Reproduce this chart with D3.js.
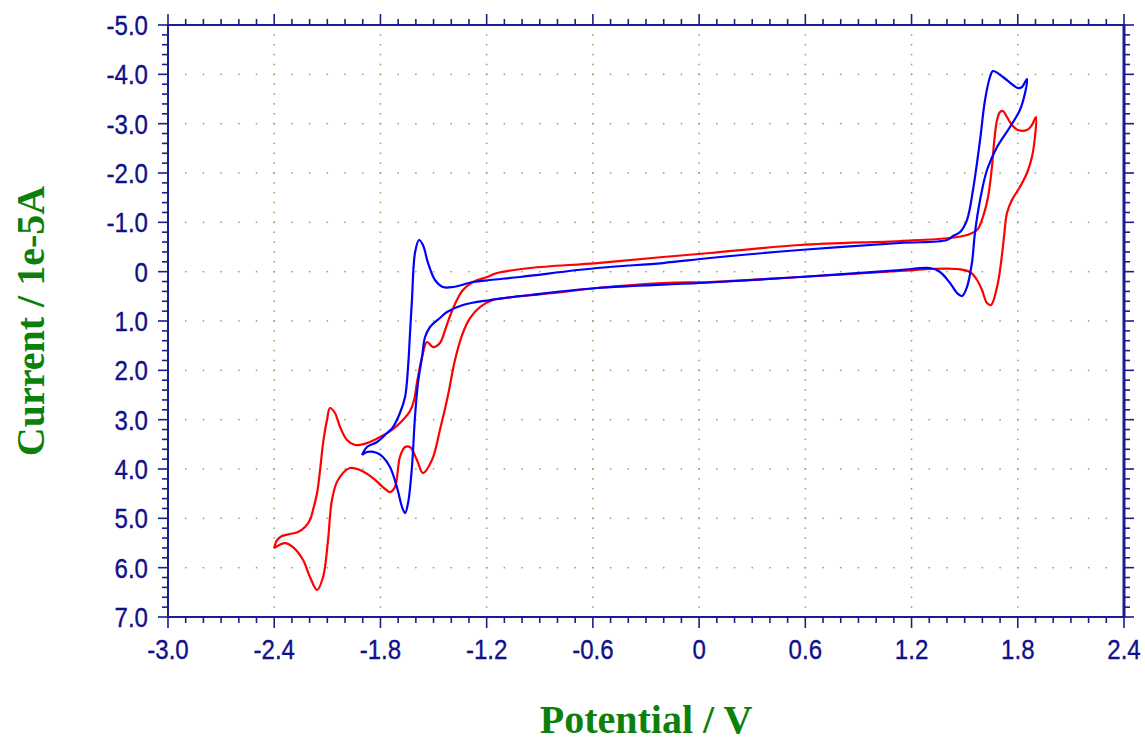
<!DOCTYPE html>
<html>
<head>
<meta charset="utf-8">
<script src="https://cdn.jsdelivr.net/npm/d3@7"></script>
<style>
  body { margin: 0; background: #fff; }
  svg { display: block; }
</style>
</head>
<body>
<div id="chartArea"></div>
<script>
// tick labels
const xTickLabels = ['-3.0', '-2.4', '-1.8', '-1.2', '-0.6', '0', '0.6', '1.2', '1.8', '2.4']
const yTickLabels = ['-5.0', '-4.0', '-3.0', '-2.0', '-1.0', '0', '1.0', '2.0', '3.0', '4.0', '5.0', '6.0', '7.0']

// red scan, potential (V) and current (1e-5 A)
const redPotential = [
  -2.401, -2.384, -2.356, -2.311, -2.266, -2.226, -2.198, -2.181, -2.158, -2.141,
  -2.124, -2.102, -2.085, -2.057, -2.028, -1.989, -1.944, -1.876, -1.803, -1.729,
  -1.673, -1.633, -1.610, -1.594, -1.565, -1.537, -1.503, -1.464, -1.435, -1.407,
  -1.368, -1.334, -1.277, -1.198, -1.142, -0.955, -0.577, -0.204, 0.061, 0.570,
  1.135, 1.417, 1.513, 1.570, 1.603, 1.632, 1.654, 1.666, 1.683, 1.700,
  1.716, 1.739, 1.767, 1.801, 1.852, 1.880, 1.903, 1.897, 1.880, 1.852,
  1.812, 1.767, 1.739, 1.722, 1.705, 1.683, 1.649, 1.626, 1.598, 1.570,
  1.530, 1.457, 1.304, 1.135, 0.570, 0.061, -0.204, -0.577, -0.769, -1.051,
  -1.164, -1.238, -1.294, -1.339, -1.379, -1.418, -1.464, -1.509, -1.560, -1.594,
  -1.633, -1.661, -1.690, -1.718, -1.746, -1.786, -1.842, -1.916, -1.972, -2.040,
  -2.074, -2.096, -2.124, -2.158, -2.198, -2.237, -2.294, -2.339, -2.401
]
const redCurrent = [
  5.602, 5.440, 5.359, 5.318, 5.278, 5.176, 5.034, 4.832, 4.487, 4.021,
  3.474, 3.007, 2.764, 2.865, 3.149, 3.413, 3.514, 3.474, 3.352, 3.190,
  3.007, 2.825, 2.602, 2.257, 1.730, 1.426, 1.528, 1.446, 1.183, 0.899,
  0.575, 0.372, 0.210, 0.108, 0.027, -0.074, -0.175, -0.297, -0.378, -0.540,
  -0.621, -0.682, -0.743, -0.844, -1.108, -1.513, -2.121, -2.608, -3.074, -3.236,
  -3.257, -3.135, -2.973, -2.871, -2.871, -2.973, -3.135, -2.730, -2.324, -2.000,
  -1.716, -1.452, -1.189, -0.702, -0.175, 0.311, 0.676, 0.636, 0.372, 0.169,
  0.007, -0.054, -0.054, -0.013, 0.108, 0.210, 0.230, 0.331, 0.412, 0.514,
  0.575, 0.717, 0.940, 1.284, 1.791, 2.500, 3.210, 3.818, 4.082, 3.818,
  3.555, 3.555, 3.757, 4.366, 4.467, 4.366, 4.183, 4.021, 3.980, 4.224,
  4.629, 5.440, 6.190, 6.453, 6.190, 5.845, 5.582, 5.501, 5.602
]

// blue scan, potential (V) and current (1e-5 A)
const bluePotential = [
  -1.904, -1.876, -1.819, -1.763, -1.729, -1.690, -1.661, -1.644, -1.633, -1.622,
  -1.605, -1.582, -1.560, -1.531, -1.492, -1.447, -1.390, -1.277, -1.181, -1.012,
  -0.577, -0.204, 0.061, 0.570, 1.135, 1.400, 1.434, 1.474, 1.513, 1.547,
  1.587, 1.615, 1.643, 1.660, 1.716, 1.773, 1.801, 1.824, 1.852, 1.841,
  1.812, 1.756, 1.683, 1.626, 1.587, 1.558, 1.541, 1.513, 1.485, 1.457,
  1.417, 1.361, 1.304, 1.135, 0.570, 0.005, -0.577, -0.955, -1.181, -1.334,
  -1.424, -1.464, -1.520, -1.548, -1.565, -1.588, -1.605, -1.622, -1.644, -1.661,
  -1.678, -1.707, -1.746, -1.786, -1.819, -1.876, -1.904
]
const blueCurrent = [
  3.717, 3.555, 3.453, 3.271, 3.149, 2.865, 2.541, 1.933, 1.244, 0.575,
  -0.378, -0.642, -0.540, -0.175, 0.169, 0.311, 0.311, 0.210, 0.169, 0.108,
  -0.074, -0.175, -0.277, -0.439, -0.581, -0.642, -0.723, -0.804, -1.047, -1.655,
  -2.669, -3.480, -3.946, -4.067, -3.946, -3.784, -3.723, -3.743, -3.905, -3.622,
  -3.277, -2.932, -2.527, -2.061, -1.452, -0.784, -0.175, 0.311, 0.494, 0.433,
  0.230, 0.007, -0.074, -0.033, 0.108, 0.230, 0.331, 0.473, 0.575, 0.676,
  0.818, 0.940, 1.122, 1.325, 1.730, 2.257, 2.946, 3.960, 4.690, 4.893,
  4.771, 4.366, 3.960, 3.757, 3.676, 3.656, 3.717
]

const width = 1145
const height = 738
const margin = { top: 25, right: 21, bottom: 121, left: 168 }
const innerWidth = width - margin.left - margin.right
const innerHeight = height - margin.top - margin.bottom

const axisColor = '#1c1c8e'
const labelColor = '#10108a'
const gridColor = '#8fa35c'
const titleColor = '#0b800b'

const xScale = d3.scaleLinear().domain([-3.0, 2.4]).range([0, innerWidth])
const yScale = d3.scaleLinear().domain([-5.0, 7.0]).range([0, innerHeight])

const xMajor = xTickLabels.map(d => +d)
const yMajor = yTickLabels.map(d => +d)
const xMinor = d3.range(-30, 25, 1).map(d => d / 10)
const yMinor = d3.range(-25, 36, 1).map(d => d / 5)

const svg = d3
  .select('#chartArea')
  .append('svg')
  .attr('width', width)
  .attr('height', height)

const plotG = svg
  .append('g')
  .attr('transform', `translate(${margin.left},${margin.top})`)

//
// dotted grid: dots on major lines at minor steps
//
const gridG = plotG.append('g')
yMajor.slice(1, -1).forEach(v => {
  gridG
    .selectAll(null)
    .data(xMinor.slice(1, -1))
    .enter()
    .append('rect')
    .attr('x', d => xScale(d) - 0.75)
    .attr('y', yScale(v) - 0.75)
    .attr('width', 1.5)
    .attr('height', 1.5)
    .attr('fill', gridColor)
})
xMajor.slice(1, -1).forEach(v => {
  gridG
    .selectAll(null)
    .data(yMinor.slice(1, -1))
    .enter()
    .append('rect')
    .attr('x', xScale(v) - 0.75)
    .attr('y', d => yScale(d) - 0.75)
    .attr('width', 1.5)
    .attr('height', 1.5)
    .attr('fill', gridColor)
})

//
// frame
//
plotG
  .append('rect')
  .attr('width', innerWidth)
  .attr('height', innerHeight)
  .attr('fill', 'none')
  .attr('stroke', axisColor)
  .attr('stroke-width', 2)

plotG
  .append('line')
  .attr('x1', innerWidth)
  .attr('x2', innerWidth)
  .attr('y1', -1)
  .attr('y2', innerHeight + 1)
  .attr('stroke', axisColor)
  .attr('stroke-width', 3)

//
// ticks
//
const isMajorX = d => xMajor.some(m => Math.abs(m - d) < 1e-6)
const isMajorY = d => yMajor.some(m => Math.abs(m - d) < 1e-6)

const tickG = plotG.append('g').attr('stroke', axisColor).attr('stroke-width', 1.6)

tickG
  .selectAll('.tick-top')
  .data(xMinor)
  .enter()
  .append('line')
  .attr('x1', d => xScale(d))
  .attr('x2', d => xScale(d))
  .attr('y1', 0)
  .attr('y2', d => (isMajorX(d) ? -11 : -6))

tickG
  .selectAll('.tick-bottom')
  .data(xMinor)
  .enter()
  .append('line')
  .attr('x1', d => xScale(d))
  .attr('x2', d => xScale(d))
  .attr('y1', innerHeight)
  .attr('y2', d => innerHeight + (isMajorX(d) ? 11 : 6))

tickG
  .selectAll('.tick-left')
  .data(yMinor)
  .enter()
  .append('line')
  .attr('y1', d => yScale(d))
  .attr('y2', d => yScale(d))
  .attr('x1', 0)
  .attr('x2', d => (isMajorY(d) ? -10 : -6))

tickG
  .selectAll('.tick-right')
  .data(yMinor)
  .enter()
  .append('line')
  .attr('y1', d => yScale(d))
  .attr('y2', d => yScale(d))
  .attr('x1', innerWidth)
  .attr('x2', d => innerWidth + (isMajorY(d) ? 10 : 6))

//
// tick labels (narrow, slightly heavy sans)
//
const labelStyle = sel =>
  sel
    .attr('font-family', 'Liberation Sans, Arial, sans-serif')
    .attr('font-size', 28)
    .attr('fill', labelColor)
    .attr('stroke', labelColor)
    .attr('stroke-width', 0.35)

plotG
  .selectAll('.xlabel')
  .data(xTickLabels)
  .enter()
  .append('text')
  .attr('transform', d => `translate(${xScale(+d)},${innerHeight + 42}) scale(0.86,1)`)
  .attr('text-anchor', 'middle')
  .call(labelStyle)
  .text(d => d)

plotG
  .selectAll('.ylabel')
  .data(yTickLabels)
  .enter()
  .append('text')
  .attr('transform', d => `translate(-20,${yScale(+d) + 10}) scale(0.86,1)`)
  .attr('text-anchor', 'end')
  .call(labelStyle)
  .text(d => d)

//
// axis titles
//
svg
  .append('text')
  .attr('x', margin.left + innerWidth / 2)
  .attr('y', 733)
  .attr('text-anchor', 'middle')
  .attr('font-family', 'Liberation Serif, Times New Roman, serif')
  .attr('font-weight', 'bold')
  .attr('font-size', 40)
  .attr('fill', titleColor)
  .text('Potential / V')

svg
  .append('text')
  .attr('transform', `translate(44,${margin.top + innerHeight / 2}) rotate(-90)`)
  .attr('text-anchor', 'middle')
  .attr('font-family', 'Liberation Serif, Times New Roman, serif')
  .attr('font-weight', 'bold')
  .attr('font-size', 40)
  .attr('fill', titleColor)
  .text('Current / 1e-5A')

//
// curves
//
const line = d3
  .line()
  .x(d => xScale(d[0]))
  .y(d => yScale(d[1]))
  .curve(d3.curveCatmullRom.alpha(0.5))

const redData = redPotential.map((v, i) => [v, redCurrent[i]])
const blueData = bluePotential.map((v, i) => [v, blueCurrent[i]])

plotG
  .append('path')
  .datum(redData)
  .attr('d', line)
  .attr('fill', 'none')
  .attr('stroke', '#ff0000')
  .attr('stroke-width', 2.2)
  .attr('stroke-linejoin', 'round')

plotG
  .append('path')
  .datum(blueData)
  .attr('d', line)
  .attr('fill', 'none')
  .attr('stroke', '#0000ff')
  .attr('stroke-width', 2.2)
  .attr('stroke-linejoin', 'round')
</script>
</body>
</html>
